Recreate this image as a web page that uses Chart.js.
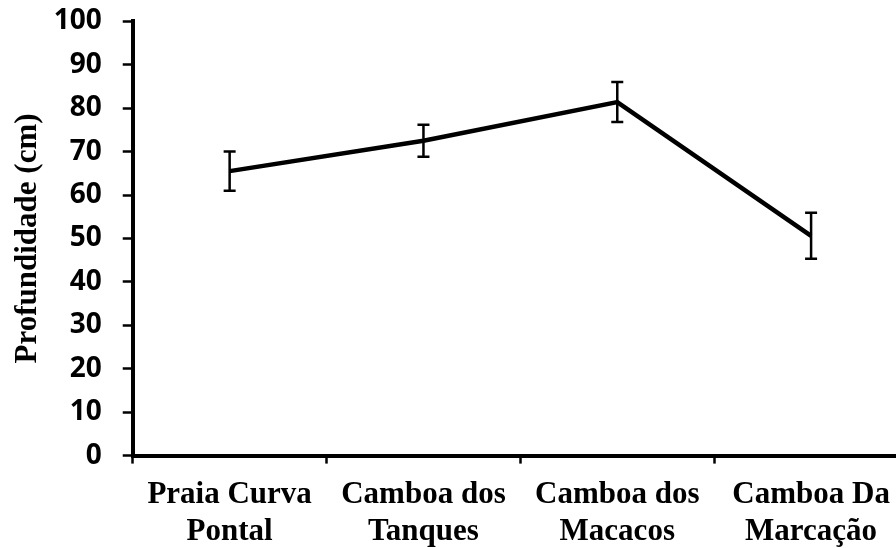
<!DOCTYPE html>
<html>
<head>
<meta charset="utf-8">
<script src="https://cdn.jsdelivr.net/npm/chart.js@4.4.1/dist/chart.umd.min.js"></script>
<style>
  html, body { margin: 0; padding: 0; background: #ffffff; overflow: hidden; }
  #wrap { position: relative; width: 908px; height: 548px; }
</style>
</head>
<body>
<div id="wrap"><canvas id="chart"></canvas></div>
<script>
// Sampling sites (two-line labels)
const sites = [
  ['Praia Curva', 'Pontal'],
  ['Camboa dos', 'Tanques'],
  ['Camboa dos', 'Macacos'],
  ['Camboa Da', 'Marcação']
];
// Mean depth (cm) per site
const depthMean = [65.5, 72.5, 81.4, 50.6];
// Error (± cm) per site
const depthError = [4.5, 3.7, 4.6, 5.3];
// Y axis range and step
const yMin = 0;
const yMax = 100;
const yStep = 10;

// Draws vertical error bars with caps using the chart's scales
const errorBars = {
  id: 'errorBars',
  afterDatasetsDraw(chart) {
    const ctx = chart.ctx;
    const x = chart.scales.x;
    const y = chart.scales.y;
    ctx.save();
    ctx.strokeStyle = '#000000';
    ctx.lineWidth = 2.5;
    depthMean.forEach((m, i) => {
      const px = x.getPixelForValue(i);
      const top = y.getPixelForValue(m + depthError[i]);
      const bot = y.getPixelForValue(m - depthError[i]);
      const cap = 6;
      ctx.beginPath();
      ctx.moveTo(px, top); ctx.lineTo(px, bot);
      ctx.moveTo(px - cap, top); ctx.lineTo(px + cap, top);
      ctx.moveTo(px - cap, bot); ctx.lineTo(px + cap, bot);
      ctx.stroke();
    });
    ctx.restore();
  }
};

new Chart(document.getElementById('chart'), {
  type: 'line',
  data: {
    labels: sites,
    datasets: [{
      data: depthMean,
      borderColor: '#000000',
      borderWidth: 4.5,
      pointRadius: 0,
      tension: 0,
      fill: false
    }]
  },
  options: {
    responsive: true,
    maintainAspectRatio: false,
    animation: false,
    devicePixelRatio: 1,
    layout: { padding: { left: 9.5, top: 0, right: 0, bottom: -16 } },
    plugins: { legend: { display: false }, tooltip: { enabled: false } },
    scales: {
      x: {
        type: 'category',
        offset: true,
        grid: {
          offset: true,
          drawOnChartArea: false,
          drawTicks: true,
          tickLength: 8,
          tickWidth: 2.5,
          tickColor: '#000000'
        },
        border: { display: true, color: '#000000', width: 4 },
        ticks: {
          color: '#000000',
          padding: 13,
          maxRotation: 0,
          autoSkip: false,
          font: { family: '"Liberation Serif", "Times New Roman", serif', weight: 'bold', size: 31, lineHeight: 1.2 }
        }
      },
      y: {
        min: yMin,
        max: yMax,
        grid: {
          drawOnChartArea: false,
          drawTicks: true,
          tickLength: 10,
          tickWidth: 2.5,
          tickColor: '#000000'
        },
        border: { display: true, color: '#000000', width: 4 },
        ticks: {
          stepSize: yStep,
          color: '#000000',
          padding: 21,
          font: { family: '"Open Sans", sans-serif', weight: 'bold', size: 28, lineHeight: 0.02 }
        },
        title: {
          display: true,
          text: 'Profundidade (cm)',
          color: '#000000',
          padding: { top: 0, bottom: -14 },
          font: { family: '"Liberation Serif", "Times New Roman", serif', weight: 'bold', size: 31 }
        }
      }
    }
  },
  plugins: [errorBars]
});
</script>
</body>
</html>
